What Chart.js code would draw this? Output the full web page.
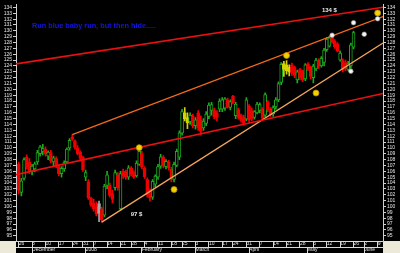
<!DOCTYPE html>
<html><head><meta charset="utf-8">
<script src="https://cdn.jsdelivr.net/npm/chart.js@4/dist/chart.umd.min.js"></script>
<style>html,body{margin:0;padding:0;background:#000;overflow:hidden}</style>
</head><body>
<canvas id="c" width="400" height="253"></canvas>
<script>
// ---- categories: trading days ----
const dates = [
'2007-11-23','2007-11-26','2007-11-27','2007-11-28','2007-11-29','2007-11-30',
'2007-12-03','2007-12-04','2007-12-05','2007-12-06','2007-12-07','2007-12-10','2007-12-11','2007-12-12','2007-12-13','2007-12-14',
'2007-12-17','2007-12-18','2007-12-19','2007-12-20','2007-12-21','2007-12-24','2007-12-26','2007-12-27','2007-12-28','2007-12-31',
'2008-01-02','2008-01-03','2008-01-04','2008-01-07','2008-01-08','2008-01-09','2008-01-10','2008-01-11','2008-01-14','2008-01-15',
'2008-01-16','2008-01-17','2008-01-18','2008-01-22','2008-01-23','2008-01-24','2008-01-25','2008-01-28','2008-01-29','2008-01-30','2008-01-31',
'2008-02-01','2008-02-04','2008-02-05','2008-02-06','2008-02-07','2008-02-08','2008-02-11','2008-02-12','2008-02-13','2008-02-14','2008-02-15',
'2008-02-19','2008-02-20','2008-02-21','2008-02-22','2008-02-25','2008-02-26','2008-02-27','2008-02-28','2008-02-29',
'2008-03-03','2008-03-04','2008-03-05','2008-03-06','2008-03-07','2008-03-10','2008-03-11','2008-03-12','2008-03-13','2008-03-14',
'2008-03-17','2008-03-18','2008-03-19','2008-03-20','2008-03-24','2008-03-25','2008-03-26','2008-03-27','2008-03-28','2008-03-31',
'2008-04-01','2008-04-02','2008-04-03','2008-04-04','2008-04-07','2008-04-08','2008-04-09','2008-04-10','2008-04-11',
'2008-04-14','2008-04-15','2008-04-16','2008-04-17','2008-04-18','2008-04-21','2008-04-22','2008-04-23','2008-04-24','2008-04-25',
'2008-04-28','2008-04-29','2008-04-30','2008-05-01','2008-05-02','2008-05-05','2008-05-06','2008-05-07','2008-05-08','2008-05-09',
'2008-05-12','2008-05-13','2008-05-14','2008-05-15','2008-05-16','2008-05-19','2008-05-20','2008-05-21','2008-05-22','2008-05-23',
'2008-05-27','2008-05-28','2008-05-29','2008-05-30','2008-06-02','2008-06-03','2008-06-04','2008-06-05','2008-06-06',
'2008-06-09','2008-06-10','2008-06-11'];

// ---- OHLC series (null = no candle) ----
const opens = [null,
107.2,102.4,104.8,108.4,107.6, 106.0,106.4,107.6,109.0,109.4, 109.8,108.6,109.2,107.6,108.2,
106.8,105.6,106.4,107.6,110.0, 111.8,111.2,110.0,109.3,108.4,
105.0,104.2,101.4, 100.6,100.0,98.8,99.6,98.5, 103.6,103.6,102.2,103.2,105.4, 99.6,106.0,105.9,105.0, 106.5,105.8,105.2,107.2,
109.0, 106.5,104.6,102.2,101.6,103.8, 105.0,106.9,108.4,106.8,107.6, 106.4,104.6,107.0,108.4, 112.5,116.0,115.2,114.5,115.4,
113.8,116.0,114.8,113.4,114.2, 115.4,116.4,116.4,116.0,116.6, 116.6,116.8,118.2,116.9, 118.8,115.5,116.5,115.6,115.2, 114.9,
117.2,116.4,115.2,116.0, 116.4,116.6,115.6,117.8,116.6, 115.8,117.0,118.2,121.2,123.4, 124.2,123.0,124.2,123.8,121.6, 123.4,123.2,121.8,
124.3,123.8, 122.0,123.5,125.0,124.0,124.6, 126.8,127.4,129.1,128.2,127.8, 125.0,124.9,124.6,123.4,124.0, 127.2];
const highs = [null,
107.6,104.8,108.3,108.8,108.2, 107.2,107.6,109.6,110.4,110.6, 110.2,109.5,109.6,108.6,108.5,
107.1,106.8,107.8,110.0,111.6, 112.3,111.4,110.4,109.5,108.6,
106.2,104.6,101.6, 101.2,100.8,100.9,99.9,103.8, 106.0,104.0,102.8,106.2,105.8, 106.0,106.4,106.2,107.0, 106.8,106.1,107.8,109.8,
109.4, 106.8,104.9,103.0,104.6,105.4, 107.2,108.9,108.7,108.0,107.9, 106.7,107.6,109.8,112.9, 116.6,116.9,116.0,116.0,115.8,
115.2,116.4,115.5,115.0,116.2, 117.7,117.8,116.8,116.4,118.4, 118.6,118.6,118.5,118.2, 119.0,117.8,116.8,115.8,115.6, 118.6,
117.4,116.8,116.4,117.8, 117.7,116.9,119.4,118.1,116.9, 117.2,118.6,121.3,124.6,124.8, 124.9,124.2,124.5,124.0,123.3, 123.6,123.3,124.4,
124.6,124.0, 124.3,125.3,125.2,125.6,127.0, 128.9,129.0,129.3,128.5,128.0, 126.6,125.2,125.0,124.8,127.9, 129.9];
const lows = [null,
102.1,101.8,104.5,106.4,105.6, 105.4,105.9,107.2,108.6,108.8, 108.6,108.0,107.5,106.8,106.6,
105.2,105.0,106.0,107.4,109.6, 111.3,109.8,108.8,107.8,106.0,
104.4,101.2,100.0, 99.2,98.4,97.4,97.3,98.2, 103.0,101.6,100.6,102.8,102.8, 99.3,104.8,104.6,104.6, 105.2,104.8,105.0,107.0,
106.4, 104.8,101.6,100.9,101.2,103.4, 104.6,106.5,106.6,106.4,106.2, 104.2,104.2,106.8,108.0, 112.2,114.6,113.3,114.0,113.4,
113.2,113.0,112.2,113.0,113.8, 115.0,115.6,115.0,114.6,116.2, 116.2,116.4,116.8,116.5, 117.5,115.0,114.9,114.4,113.9, 114.6,
114.4,114.6,114.9,115.8, 116.0,114.8,115.3,116.2,115.4, 115.4,116.6,117.9,120.8,122.2, 122.6,122.3,122.4,122.0,121.1, 121.6,121.3,121.5,
123.2,121.8, 121.1,123.2,123.6,123.8,124.0, 126.5,127.2,127.9,127.0,126.4, 124.8,123.0,123.2,123.2,123.6, 126.9];
const closes = [null,
102.8,104.4,108.0,106.8,106.0, 106.9,107.3,109.2,110.2,109.9, 109.0,109.3,107.8,108.3,106.9,
105.6,106.5,107.5,109.8,111.3, 111.5,110.1,109.0,108.2,106.3,
105.8,101.5,100.2, 99.6,98.7,100.5,97.7,103.5, 105.4,101.9,101.2,105.8,103.2, 105.6,105.2,105.0,106.6, 105.5,105.1,107.4,109.4,
106.8, 105.1,102.0,101.4,104.3,105.2, 106.8,108.5,107.0,107.7,106.6, 104.8,107.2,109.4,112.6, 116.2,115.0,114.3,115.6,113.7,
114.8,113.4,112.8,114.6,115.8, 117.3,117.4,115.3,115.2,118.0, 118.2,118.4,117.0,117.9, 117.7,117.5,115.2,114.7,114.2, 118.2,
114.8,115.0,116.2,117.5, 117.4,115.1,119.1,116.5,115.7, 116.9,118.2,121.0,124.3,124.4, 123.2,123.8,122.8,122.4,123.0, 122.0,121.6,124.2,
123.5,122.2, 124.0,125.0,124.0,125.3,126.7, 128.6,128.8,128.1,127.3,126.6, 126.2,123.3,123.6,124.4,127.6, 129.7];

const yellowDays = ['2008-02-26','2008-02-27','2008-04-18','2008-04-21','2008-04-22'];
const grayDays = ['2008-01-09'];
const yTicks = [95,96,97,98,99,100,101,102,103,104,105,106,107,108,109,110,111,112,113,114,
                115,116,117,118,119,120,121,122,123,124,125,126,127,128,129,130,131,132,133,134];

// trend lines: [date, price] endpoints
const redTopLine    = [['2007-11-23',124.35],['2008-06-11',134.03]];
const orangeLine    = [['2007-12-24',112.29],['2008-06-11',132.44]];
const redLowLine    = [['2007-11-23',105.44],['2008-06-11',119.31]];
const supportLine   = [['2008-01-10',97.32],['2008-06-11',127.92]];
// markers
const yellowMarks = [['2008-01-31',110.05],['2008-02-20',102.9],['2008-04-21',125.79],['2008-05-06',119.38],['2008-06-09',133.06]];
const whiteMarks  = [['2008-06-09',132.06],['2008-05-27',131.39],['2008-06-02',129.43],['2008-05-14',129.26],['2008-05-23',123.11]];
// notes
const noteTexts = ['Run blue baby run, but then hide.....','134 $','97 $'];
const notePos   = [['2007-12-03',130.85],['2008-05-13',133.5],['2008-01-30',98.65]];

// ---- helpers ----
const idx = d => dates.indexOf(d);
const toDate = s => new Date(s + 'T00:00:00');
const mondayKey = s => { const d = toDate(s); d.setDate(d.getDate() - (d.getDay() - 1)); return d; };
const weekStart = dates.map((s,i) => i > 0 && mondayKey(s).getTime() !== mondayKey(dates[i-1]).getTime());
const monthStart = dates.map((s,i) => i > 0 && s.slice(5,7) !== dates[i-1].slice(5,7));
const monthNames = ['January','February','March','April','May','June','July','August','September','October','November','December'];
const monthLabel = s => { const m = +s.slice(5,7); return m === 1 ? s.slice(0,4) : monthNames[m-1]; };

const GREEN = '#1faa1f', RED = '#ee0000', YEL = '#d4d400', GRAY = '#a8a8a8';
const candleColor = i => {
  if (yellowDays.includes(dates[i])) return YEL;
  if (grayDays.includes(dates[i])) return GRAY;
  return closes[i] >= opens[i] ? GREEN : RED;
};
const colors = dates.map((d,i) => opens[i] == null ? 'transparent' : candleColor(i));
const bodyFill = dates.map((d,i) => opens[i] == null ? 'transparent' : (candleColor(i) === GREEN ? '#000' : candleColor(i)));
const toPts = arr => arr.map(([d,v]) => ({x: idx(d), y: v}));

const zeroPad = s => { s.paddingTop = 0; s.paddingBottom = 0; s.paddingLeft = 0; s.paddingRight = 0; };
const tickFont = {family: 'Liberation Sans', size: 5};

const bgPlugin = {
  id: 'bg',
  beforeDraw(chart) {
    const {ctx, chartArea: a, width, height} = chart;
    ctx.save();
    ctx.fillStyle = '#000'; ctx.fillRect(0, 0, width, height);
    ctx.fillStyle = '#ece9d8';
    ctx.fillRect(0, a.bottom, a.left, height - a.bottom);
    ctx.fillRect(a.right, a.bottom, width - a.right, height - a.bottom);
    ctx.restore();
  },
  afterDatasetsDraw(chart) {
    const {ctx} = chart; const xs = chart.scales.xl, ys = chart.scales.y;
    ctx.save();
    ctx.textBaseline = 'middle';
    const styles = [['bold 7.3px "Liberation Sans"', '#1414e6', 'left'],
                    ['bold 6px "Liberation Sans"', '#e8e8e8', 'center'],
                    ['bold 6px "Liberation Sans"', '#e8e8e8', 'center']];
    noteTexts.forEach((t,k) => {
      ctx.font = styles[k][0]; ctx.fillStyle = styles[k][1]; ctx.textAlign = styles[k][2];
      ctx.fillText(t, xs.getPixelForValue(idx(notePos[k][0])), ys.getPixelForValue(notePos[k][1]));
    });
    ctx.restore();
  }
};

const lineDs = (pts, color, w) => ({type: 'line', xAxisID: 'xl', yAxisID: 'y', data: toPts(pts), borderColor: color,
  borderWidth: w, pointRadius: 0, fill: false, order: 0});

new Chart(document.getElementById('c'), {
  data: {
    labels: dates,
    datasets: [
      {type: 'bar', label: 'wick', xAxisID: 'x', yAxisID: 'y', data: dates.map((d,i) => highs[i] == null ? null : [lows[i], highs[i]]),
        backgroundColor: colors, barThickness: 1, grouped: false, order: 3},
      {type: 'bar', label: 'body', xAxisID: 'x', yAxisID: 'y', data: dates.map((d,i) => opens[i] == null ? null : [opens[i], closes[i]]),
        backgroundColor: bodyFill, borderColor: colors, borderWidth: 1, borderSkipped: false, barThickness: 3, minBarLength: 1, grouped: false, order: 2},
      lineDs(redTopLine, '#e81010', 1.6),
      lineDs(orangeLine, '#f26a1b', 1.3),
      lineDs(redLowLine, '#e81010', 1.6),
      lineDs(supportLine, '#f4a65e', 1.3),
      {type: 'scatter', xAxisID: 'xl', yAxisID: 'y', data: toPts(whiteMarks), pointRadius: 2.3, pointBackgroundColor: '#f4f4f4', pointBorderColor: '#9a9a9a', pointBorderWidth: 0.6, order: -1},
      {type: 'scatter', xAxisID: 'xl', yAxisID: 'y', data: toPts(yellowMarks), pointRadius: 3, pointBackgroundColor: '#f5d000', pointBorderColor: '#b08a00', pointBorderWidth: 0.8, order: -1}
    ]
  },
  options: {
    responsive: false, animation: false, devicePixelRatio: 1,
    layout: {padding: 0},
    plugins: {legend: {display: false}, tooltip: {enabled: false}},
    scales: {
      x: {type: 'category', position: 'bottom', offset: false, weight: 0,
        afterFit: s => { s.height = 6; zeroPad(s); },
        grid: {offset: false, drawOnChartArea: false, drawTicks: true, tickLength: 6,
               color: c => weekStart[c.index] ? '#d8d8d8' : 'rgba(0,0,0,0)', lineWidth: 1},
        border: {display: true, color: '#d8d8d8'},
        ticks: {autoSkip: false, maxRotation: 0, minRotation: 0, align: 'start', padding: -6, color: '#e0e0e0', font: tickFont,
          callback: (v,i) => weekStart[i] ? String(mondayKey(dates[i]).getDate()) : ''}},
      xm: {type: 'category', position: 'bottom', offset: false, weight: 1, labels: dates,
        afterFit: s => { s.height = 6; zeroPad(s); },
        grid: {offset: false, drawOnChartArea: false, drawTicks: true, tickLength: 6,
               color: c => monthStart[c.index] ? '#d8d8d8' : 'rgba(0,0,0,0)', lineWidth: 1},
        border: {display: true, color: '#d8d8d8'},
        ticks: {autoSkip: false, maxRotation: 0, minRotation: 0, align: 'start', padding: -6, color: '#e0e0e0', font: tickFont,
          callback: (v,i) => monthStart[i] ? monthLabel(dates[i]) : ''}},
      xl: {type: 'linear', display: false, min: 0, max: dates.length - 1},
      y: {type: 'linear', position: 'left', min: 94.1, max: 134.45,
        afterFit: s => { s.width = 16; zeroPad(s); },
        afterBuildTicks: s => { s.ticks = yTicks.map(v => ({value: v})); },
        grid: {drawOnChartArea: false, drawTicks: true, tickLength: 3, color: '#cfcfcf'},
        border: {display: true, color: '#cfcfcf'},
        ticks: {autoSkip: false, padding: 1, color: '#e4e4e4', font: tickFont, callback: v => String(v)}},
      yr: {type: 'linear', position: 'right', min: 94.1, max: 134.45,
        afterFit: s => { s.width = 17; zeroPad(s); },
        afterBuildTicks: s => { s.ticks = yTicks.map(v => ({value: v})); },
        grid: {drawOnChartArea: false, drawTicks: true, tickLength: 3, color: '#cfcfcf'},
        border: {display: true, color: '#cfcfcf'},
        ticks: {autoSkip: false, padding: 1, color: '#e4e4e4', font: tickFont, callback: v => String(v)}}
    }
  },
  plugins: [bgPlugin]
});
</script>
</body></html>
